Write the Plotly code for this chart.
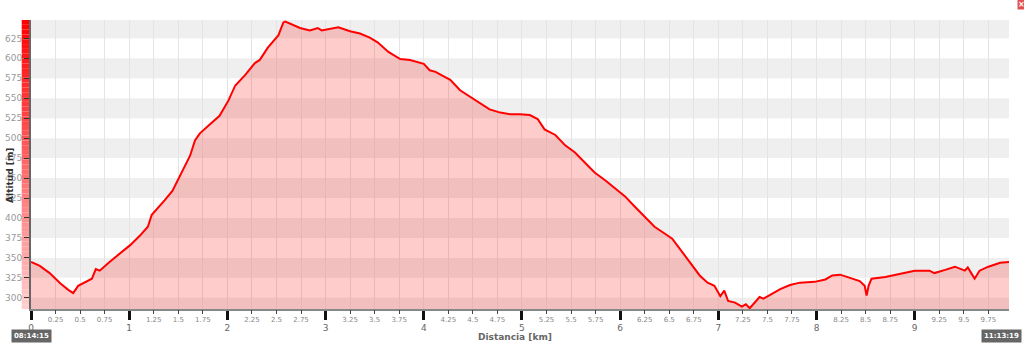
import plotly.graph_objects as go

dist_km = [0.00, 0.09, 0.19, 0.30, 0.38, 0.43, 0.48, 0.55, 0.62, 0.66, 0.70, 0.80, 0.91, 1.01,
           1.11, 1.19, 1.23, 1.29, 1.36, 1.44, 1.50, 1.57, 1.62, 1.67, 1.72, 1.82, 1.92, 2.01,
           2.08, 2.18, 2.28, 2.33, 2.41, 2.52, 2.57, 2.59, 2.64, 2.74, 2.84, 2.92, 2.96, 3.13,
           3.25, 3.35, 3.45, 3.53, 3.64, 3.76, 3.86, 3.92, 4.00, 4.06, 4.12, 4.18, 4.27, 4.37,
           4.47, 4.57, 4.67, 4.78, 4.88, 4.98, 5.08, 5.16, 5.23, 5.34, 5.44, 5.54, 5.64, 5.74,
           5.85, 5.95, 6.05, 6.15, 6.25, 6.35, 6.46, 6.53, 6.61, 6.71, 6.81, 6.89, 6.96, 7.02,
           7.06, 7.10, 7.17, 7.24, 7.28, 7.32, 7.37, 7.42, 7.46, 7.53, 7.63, 7.73, 7.83, 7.98,
           8.09, 8.16, 8.24, 8.34, 8.44, 8.49, 8.51, 8.53, 8.56, 8.70, 8.85, 9.00, 9.15, 9.20,
           9.31, 9.41, 9.51, 9.54, 9.58, 9.61, 9.66, 9.75, 9.87, 9.96]
altitude_m = [345, 340, 331, 318, 310, 306, 315, 319, 324, 336, 334, 345, 356, 366,
              378, 389, 404, 412, 422, 434, 449, 466, 478, 497, 506, 517, 528, 547,
              566, 579, 594, 598, 613, 629, 645, 646, 643, 638, 635, 638, 635, 639,
              634, 631, 626, 620, 608, 599, 598, 596, 593, 585, 583, 579, 573, 560,
              552, 545, 536, 532, 530, 530, 529, 524, 511, 504, 491, 482, 470, 457,
              447, 437, 427, 414, 402, 389, 380, 374, 361, 344, 328, 319, 315, 302,
              309, 296, 294, 289, 292, 287, 294, 301, 299, 304, 311, 316, 319, 320,
              323, 328, 329, 325, 321, 315, 303, 315, 324, 326, 330, 334, 334, 331,
              335, 339, 334, 338, 330, 324, 334, 339, 344, 345]

major_ticks = [0, 1, 2, 3, 4, 5, 6, 7, 8, 9]
minor_ticks = [q / 4 for q in range(0, 40) if q % 4 != 0]
minor_labels = [("%g" % v) for v in minor_ticks]
y_ticks = list(range(300, 650, 25))
start_time = "08:14:15"
end_time = "11:13:19"

X_RANGE = [0, 9.96]
Y_RANGE = [286, 648]
FONT = "DejaVu Sans"

fig = go.Figure()
fig.add_trace(go.Scatter(
    x=dist_km, y=altitude_m, mode="lines",
    line=dict(color="#ff0000", width=2),
    fill="tozeroy", fillcolor="rgba(255,0,0,0.2)",
    hoverinfo="x+y", showlegend=False))
fig.add_trace(go.Scatter(x=[X_RANGE[0]], y=[Y_RANGE[0]], xaxis="x2", mode="markers",
                         marker=dict(opacity=0), showlegend=False, hoverinfo="skip"))

shapes = []
# alternating horizontal bands
for lo in range(275, 650, 50):
    shapes.append(dict(type="rect", xref="paper", yref="y", x0=0, x1=1, y0=lo, y1=lo + 25,
                       fillcolor="#efefef", line=dict(width=0), layer="below"))
# left gradient strip
n = 60
for i in range(n):
    y0 = Y_RANGE[0] + (Y_RANGE[1] - Y_RANGE[0]) * i / n
    y1 = Y_RANGE[0] + (Y_RANGE[1] - Y_RANGE[0]) * (i + 1) / n
    t = i / (n - 1)
    g = int(round(205 * (1 - t)))
    shapes.append(dict(type="rect", xref="paper", yref="y", x0=-0.0095, x1=-0.001,
                       y0=y0, y1=y1, fillcolor="rgb(255,%d,%d)" % (g, g),
                       line=dict(width=0), layer="below"))

fig.update_layout(
    width=1024, height=344,
    margin=dict(l=31, r=15, t=20, b=35, autoexpand=False),
    paper_bgcolor="white", plot_bgcolor="white",
    font=dict(family=FONT),
    shapes=shapes,
    xaxis=dict(range=X_RANGE, tickvals=major_ticks, ticktext=[str(v) for v in major_ticks],
               ticks="outside", ticklen=9, tickwidth=3, tickcolor="#111",
               tickfont=dict(size=9, color="#666"), automargin=False,
               showline=True, linecolor="#888", linewidth=2,
               showgrid=False, zeroline=False,
               minor=dict(dtick=0.25, tick0=0, showgrid=True, gridcolor="#e4e4e4", gridwidth=1, ticks="")),
    xaxis2=dict(range=X_RANGE, overlaying="x", anchor="y", side="bottom",
                tickvals=minor_ticks, ticktext=minor_labels, automargin=False,
                ticks="outside", ticklen=4, tickwidth=1, tickcolor="#444",
                tickfont=dict(size=7, color="#888"),
                showline=False, showgrid=False, zeroline=False),
    yaxis=dict(range=Y_RANGE, tickvals=y_ticks, ticks="outside", ticklen=5, tickwidth=1,
               tickcolor="#333", tickfont=dict(size=9, color="#999"), automargin=False,
               showline=True, linecolor="#666", linewidth=2,
               showgrid=False, zeroline=False),
    annotations=[
        dict(text="<b>Distancia [km]</b>", xref="paper", yref="paper", x=0.495, y=-0.097,
             showarrow=False, font=dict(size=9, color="#666"), xanchor="center", yanchor="middle"),
        dict(text="<b>Altitud [m]</b>", xref="paper", yref="paper", x=-0.0215, y=0.464,
             textangle=-90, showarrow=False, font=dict(size=9, color="#333"),
             xanchor="center", yanchor="middle"),
        dict(text="<b>%s</b>" % start_time, xref="paper", yref="paper", x=0, y=-0.095,
             showarrow=False, font=dict(size=7, color="white"), bgcolor="#666",
             borderpad=2, xanchor="center", yanchor="middle"),
        dict(text="<b>%s</b>" % end_time, xref="paper", yref="paper", x=1.0133, y=-0.095,
             showarrow=False, font=dict(size=7, color="white"), bgcolor="#666",
             borderpad=2, xanchor="right", yanchor="middle"),
        dict(text="<b>×</b>", xref="paper", yref="paper", x=1.0125, y=1.055,
             showarrow=False, font=dict(size=8, color="white"), bgcolor="#e05050",
             borderpad=0, xanchor="center", yanchor="middle"),
    ],
)

fig.write_html("out.html", config={"displayModeBar": False},
               post_script="document.body.style.margin='0';document.body.style.overflow='hidden';")
